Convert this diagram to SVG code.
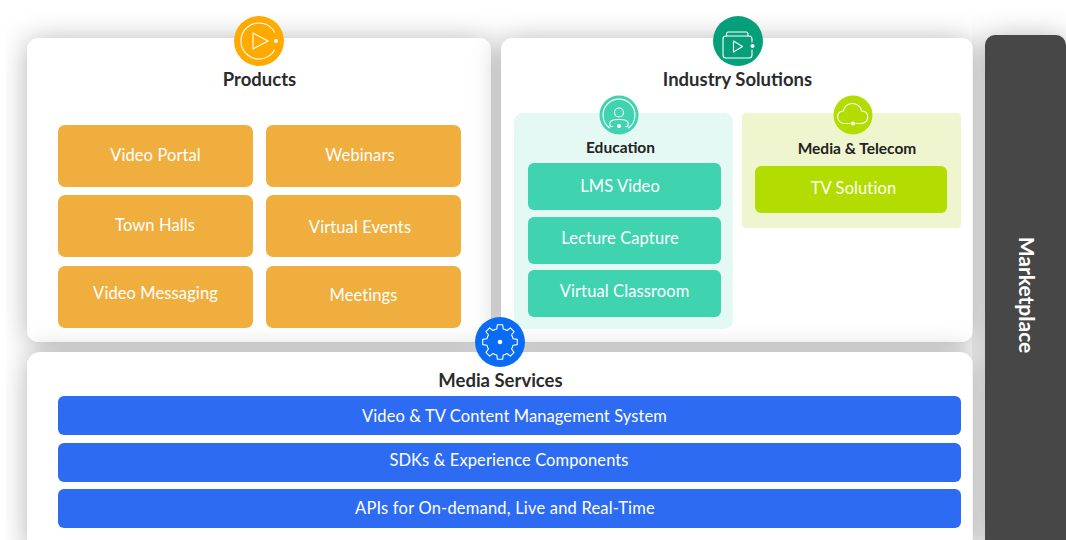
<svg xmlns="http://www.w3.org/2000/svg" xmlns:xlink="http://www.w3.org/1999/xlink" width="1066" height="540" viewBox="0 0 1066 540">
<style>
text{font-family:"Lato","Noto Sans",sans-serif;text-anchor:middle}
.h{font-size:18.500px;font-weight:700;fill:#2b2b2b}
.s{font-size:15.500px;font-weight:700;fill:#222}
.l{font-size:16.500px;fill:#fff;letter-spacing:.1px}
.o{fill:#f0ae3f}.t{fill:#3fd3b0}.b{fill:#2d6cf2}
.panel{fill:#fff;filter:url(#sh)}
.i{fill:none;stroke:#fff;stroke-width:1.1;stroke-linecap:round;stroke-linejoin:round}
.d{fill:#fff}
</style>
<defs>
<filter id="sh" x="-15%" y="-25%" width="130%" height="150%"><feDropShadow dx="0" dy="2" stdDeviation="14" flood-color="#000" flood-opacity=".3"/></filter>
<clipPath id="c"><rect x="6" y="8" width="1060" height="532"/></clipPath>
<path id="tooth" d="M-5.17-12.47L-3.2-13.1L-2.6-17.3H2.6L3.2-13.1L5.17-12.47"/>
</defs>
<rect width="1066" height="540" fill="#fff"/>
<g clip-path="url(#c)">
<rect class="panel" x="27" y="38" width="464" height="304" rx="12"/>
<rect class="panel" x="501" y="38" width="472" height="304" rx="12"/>
<rect class="panel" x="27" y="352" width="946" height="200" rx="14"/>
<rect class="panel" x="985" y="35" width="81" height="515" rx="10" style="fill:#464746"/>
</g>
<text id="marketplace" x="1026" y="295" transform="rotate(90 1026 295)" style="font-size:21px;font-weight:700;fill:#fff" dy="0.35em">Marketplace</text>

<g id="products">
<circle cx="259" cy="41" r="25" fill="#ffaa00"/>
<path class="i" d="M274.500 32A18 18 0 1 0 274.500 50"/><circle class="d" cx="276" cy="41" r="2"/>
<path class="i" d="M253 33L268 41L253 49Z"/>
<text class="h" x="259.500" y="85.500">Products</text>
</g>
<g id="video-portal"><rect class="o" x="58" y="125" width="195" height="62" rx="7"/><text class="l" x="155.500" y="161">Video Portal</text></g>
<g id="webinars"><rect class="o" x="266" y="125" width="195" height="62" rx="7"/><text class="l" x="360" y="161">Webinars</text></g>
<g id="town-halls"><rect class="o" x="58" y="195" width="195" height="62" rx="7"/><text class="l" x="155" y="231">Town Halls</text></g>
<g id="virtual-events"><rect class="o" x="266" y="195" width="195" height="62" rx="7"/><text class="l" x="360" y="232.500">Virtual Events</text></g>
<g id="video-messaging"><rect class="o" x="58" y="266" width="195" height="62" rx="7"/><text class="l" x="155.500" y="298.500">Video Messaging</text></g>
<g id="meetings"><rect class="o" x="266" y="266" width="195" height="62" rx="7"/><text class="l" x="363.500" y="300.500">Meetings</text></g>

<g id="industry-solutions">
<circle cx="738" cy="41" r="25" fill="#05a07a"/>
<path class="i" d="M752 42V39a3 3 0 0 0-3-3H726a3 3 0 0 0-3 3V55a3 3 0 0 0 3 3H749a3 3 0 0 0 3-3V50"/>
<path class="i" d="M726.500 36V34a2 2 0 0 1 2-2H746a2 2 0 0 1 2 2V36"/>
<path class="i" d="M733.500 41L742.500 46.500L733.500 52Z"/><circle class="d" cx="752.500" cy="46" r="2"/>
<text class="h" x="737.500" y="85.500">Industry Solutions</text>
</g>

<g id="education">
<rect x="514" y="113" width="219" height="216" rx="9" fill="#e4f8f4"/>
<circle cx="619" cy="115" r="19.500" fill="#3fd3b0"/>
<path class="i" d="M609.500 128A16 16 0 1 1 628.500 128"/><circle class="i" cx="619" cy="112.500" r="4.500"/>
<path class="i" d="M612.500 126.500H610.500C608 121 612 119.500 619 119.500C626 119.500 630 121 627.500 126.500H625.500"/><circle class="d" cx="619" cy="126" r="2"/>
<text class="s" x="620.500" y="152.500">Education</text>
</g>
<g id="lms-video"><rect class="t" x="528" y="163" width="193" height="47" rx="6"/><text class="l" x="620" y="192">LMS Video</text></g>
<g id="lecture-capture"><rect class="t" x="528" y="217" width="193" height="47" rx="6"/><text class="l" x="620" y="244">Lecture Capture</text></g>
<g id="virtual-classroom"><rect class="t" x="528" y="270" width="193" height="47" rx="6"/><text class="l" x="624.500" y="297">Virtual Classroom</text></g>

<g id="media-telecom">
<rect x="742" y="113" width="219" height="115" rx="4" fill="#eff6cf"/>
<circle cx="853" cy="115" r="19.500" fill="#b3dc00"/>
<path class="i" d="M850 123.500H845C836 123.500 835 111 843.500 111C844.500 101 860 101 861.500 111C870 110.500 870 123.500 861 123.500H856"/><circle class="d" cx="853" cy="123.500" r="2"/>
<text class="s" x="857" y="154">Media &amp; Telecom</text>
</g>
<g id="tv-solution"><rect x="755" y="166" width="192" height="47" rx="6" fill="#b3dc00"/><text class="l" x="853.500" y="194">TV Solution</text></g>

<g id="media-services">
<circle cx="500" cy="342" r="25" fill="#0a6cf5"/>
<g class="i" transform="translate(500 342)">
<use xlink:href="#tooth"/><use xlink:href="#tooth" transform="rotate(45)"/><use xlink:href="#tooth" transform="rotate(90)"/><use xlink:href="#tooth" transform="rotate(135)"/><use xlink:href="#tooth" transform="rotate(180)"/><use xlink:href="#tooth" transform="rotate(225)"/><use xlink:href="#tooth" transform="rotate(270)"/><use xlink:href="#tooth" transform="rotate(315)"/>
</g>
<circle class="d" cx="500" cy="342" r="2.300"/>
<text class="h" x="500.500" y="387">Media Services</text>
</g>
<g id="cms"><rect class="b" x="58" y="396" width="903" height="39" rx="6"/><text class="l" x="514.500" y="422">Video &amp; TV Content Management System</text></g>
<g id="sdks"><rect class="b" x="58" y="443" width="903" height="39" rx="6"/><text class="l" x="509" y="466">SDKs &amp; Experience Components</text></g>
<g id="apis"><rect class="b" x="58" y="489" width="903" height="39" rx="6"/><text class="l" x="505" y="514" style="letter-spacing:.2px">APIs for On-demand, Live and Real-Time</text></g>
<g id="connectors"/>
</svg>
